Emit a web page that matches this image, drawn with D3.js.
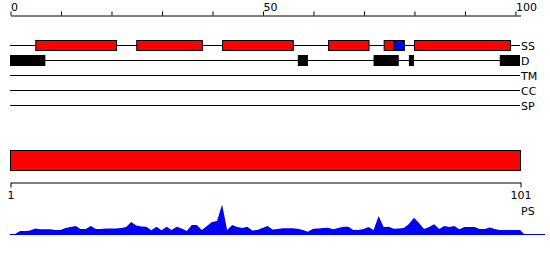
<!DOCTYPE html>
<html>
<head>
<meta charset="utf-8">
<script src="https://cdn.jsdelivr.net/npm/d3@7"></script>
<style>
  body { margin: 0; background: #fff; }
  svg { display: block; font-family: "DejaVu Sans", sans-serif; }
  .lbl { font-size: 11px; fill: #000; }
</style>
</head>
<body>
<div id="svg-container"></div>
<script>
// ---------------- data ----------------
const seqLength = 101;
const trackNames = ["SS", "D", "TM", "CC", "SP"];
const topTicks = d3.range(0, 101, 10);
const topTickLabels = ["0", "50", "100"];
const bottomTicks = [1, 101];

// secondary structure: helices (red) and strand (blue), [start, end]
const helices = [[5, 21], [25, 38], [42, 56], [63, 71], [74, 76], [80, 99]];
const strands = [[76, 78]];
// disorder regions
const disorder = [[0, 7], [57, 59], [72, 77], [79, 80], [97, 101]];
// TM, CC, SP: no features
const domainBar = [[1, 101]];

// PS profile, one value per position (last value closes to zero)
const psValues = [
  0.5, 1, 4, 4, 4.5, 6.6, 5.7, 5.7, 5.7, 5, 5, 7, 8, 9, 6, 6, 9, 6, 6, 6.6,
  6.6, 6.6, 7, 8, 13, 9.5, 8.5, 8.3, 4.7, 8.3, 4.7, 8.3, 5, 8.3, 6.5, 4, 10, 10, 5, 9,
  13, 14, 30.6, 5, 10, 8, 7, 8.3, 4.5, 5, 7, 9, 5.5, 6, 6.7, 6.7, 6.7, 6.3, 5, 3.3,
  6.3, 6.5, 7, 7.3, 5.7, 7, 8.3, 8.3, 5, 5, 6, 8, 5, 19, 8, 8.3, 6.3, 6.5, 7, 11,
  17.3, 12, 6, 8, 10.7, 6, 9, 8, 9, 5.7, 8, 8, 8, 6, 6, 7.5, 6, 5, 5, 5,
  5, 5, 0
];

// ---------------- init ----------------
const width = 550;
const height = 260;

const svg = d3.select("#svg-container").append("svg")
  .attr("width", width)
  .attr("height", height);

const margin = { left: 10, right: 30 };

// scales
const xScale = d3.scaleLinear().domain([0, seqLength]).range([margin.left, width - margin.right]);
const xRes = d3.scaleLinear().domain([1, seqLength]).range([margin.left, width - margin.right]);
const yTrack = d3.scalePoint().domain(trackNames).range([45.5, 105.5]);
const yPs = d3.scaleLinear().domain([0, 31]).range([235, 204]);

// top axis
const topAxis = d3.axisTop(xScale)
  .tickValues(topTicks)
  .tickSize(4)
  .tickPadding(1)
  .tickSizeOuter(0)
  .tickFormat((d) => (topTickLabels.includes(String(d)) ? d : ""));

const gTop = svg.append("g")
  .attr("class", "x-axis")
  .attr("transform", "translate(0.5, 15.5)")
  .call(topAxis);
gTop.select(".domain").attr("stroke", "#000");
gTop.selectAll("text")
  .attr("text-anchor", "start")
  .attr("class", "lbl")
  .attr("font-family", null)
  .attr("font-size", null);
gTop.attr("font-family", null).attr("font-size", null);

// track lines
svg.selectAll(".track")
  .data(trackNames)
  .join("line")
  .attr("class", "track")
  .attr("x1", xScale(0))
  .attr("x2", xScale(seqLength))
  .attr("y1", (d) => yTrack(d))
  .attr("y2", (d) => yTrack(d))
  .attr("stroke", "#000");

svg.selectAll(".track-label")
  .data(trackNames)
  .join("text")
  .attr("class", "lbl track-label")
  .attr("x", xScale(seqLength) + 1)
  .attr("y", (d) => yTrack(d) + 4)
  .text((d) => d);

// SS boxes
const boxH = 10;
svg.selectAll(".helix")
  .data(helices)
  .join("rect")
  .attr("class", "helix")
  .attr("x", (d) => xScale(d[0]) + 0.5)
  .attr("width", (d) => xScale(d[1]) - xScale(d[0]))
  .attr("y", yTrack("SS") - boxH / 2)
  .attr("height", boxH)
  .attr("fill", "#ff0000")
  .attr("stroke", "#000");

svg.selectAll(".strand")
  .data(strands)
  .join("rect")
  .attr("class", "strand")
  .attr("x", (d) => xScale(d[0]) + 0.5)
  .attr("width", (d) => xScale(d[1]) - xScale(d[0]))
  .attr("y", yTrack("SS") - boxH / 2)
  .attr("height", boxH)
  .attr("fill", "#0000ff")
  .attr("stroke", "#000");

// disorder
svg.selectAll(".dis")
  .data(disorder)
  .join("rect")
  .attr("class", "dis")
  .attr("x", (d) => xScale(d[0]))
  .attr("width", (d) => xScale(d[1]) - xScale(d[0]))
  .attr("y", yTrack("D") - boxH / 2 - 0.5)
  .attr("height", boxH + 1)
  .attr("fill", "#000");

// domain bar
svg.selectAll(".dom")
  .data(domainBar)
  .join("rect")
  .attr("class", "dom")
  .attr("x", (d) => xRes(d[0]) + 0.5)
  .attr("width", (d) => xRes(d[1]) - xRes(d[0]))
  .attr("y", 150.5)
  .attr("height", 20)
  .attr("fill", "#ff0000")
  .attr("stroke", "#000");

// bottom axis
const bottomAxis = d3.axisBottom(xRes)
  .tickValues(bottomTicks)
  .tickSize(5)
  .tickPadding(4)
  .tickSizeOuter(0);

const gBottom = svg.append("g")
  .attr("transform", "translate(0.5, 182.5)")
  .call(bottomAxis);
gBottom.select(".domain").attr("stroke", "#000");
gBottom.attr("font-family", null).attr("font-size", null);
gBottom.selectAll("text").attr("class", "lbl");

// PS area
const area = d3.area()
  .x((d, i) => xScale(i))
  .y0(yPs(0))
  .y1((d) => yPs(d));

svg.append("path")
  .datum(psValues)
  .attr("d", area)
  .attr("fill", "#0000ff");

svg.append("line")
  .attr("x1", xScale(0))
  .attr("x2", width - 5)
  .attr("y1", yPs(0) - 0.5)
  .attr("y2", yPs(0) - 0.5)
  .attr("stroke", "#0000ff");

svg.append("text")
  .attr("class", "lbl")
  .attr("x", xScale(seqLength) + 1)
  .attr("y", 215)
  .text("PS");
</script>
</body>
</html>
